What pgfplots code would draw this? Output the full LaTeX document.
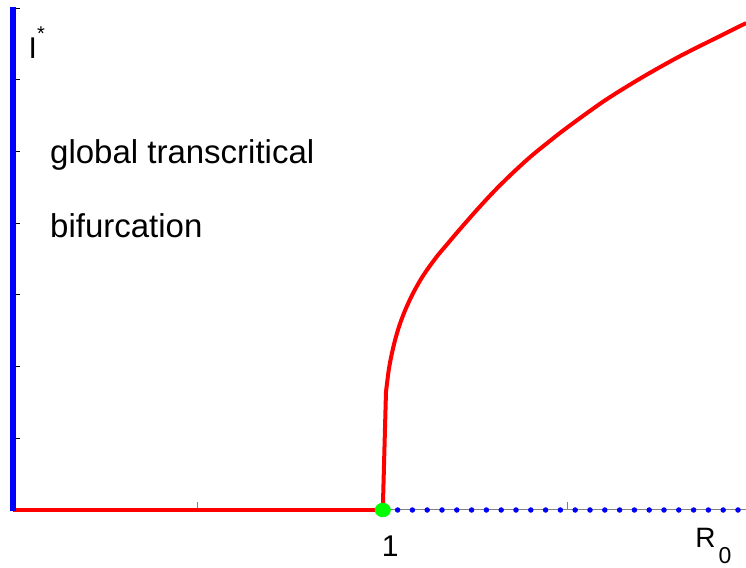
\documentclass[border=0pt]{standalone}
\usepackage{fontspec}
\setmainfont{Liberation Sans}
\usepackage{pgfplots}
\pgfplotsset{compat=1.18}

\begin{document}
\begin{tikzpicture}
\begin{axis}[
  scale only axis,
  width=370pt, height=251pt,
  xmin=0, xmax=2, ymin=0, ymax=7,
  clip=false,
  axis x line=bottom, axis y line=left,
  x axis line style={-, draw=gray, line width=0.5pt},
  y axis line style={draw=none},
  xtick={0.5,1,1.5}, ytick={0,1,...,7},
  xticklabels={}, yticklabels={},
  tick align=inside,
  major tick length=3.75pt,
  xtick style={gray, line width=0.5pt},
  ytick style={black, line width=0.5pt},
]
% disease-free branch below threshold
\addplot[red, line width=2pt, line cap=butt] coordinates {(0,0) (1,0)};
% unstable disease-free branch above threshold
\addplot[only marks, mark=*, blue, mark size=1.15pt] coordinates {
  (1.04,0) (1.08,0) (1.12,0) (1.16,0) (1.20,0) (1.24,0) (1.28,0) (1.32,0)
  (1.36,0) (1.40,0) (1.44,0) (1.48,0) (1.52,0) (1.56,0) (1.60,0) (1.64,0)
  (1.68,0) (1.72,0) (1.76,0) (1.80,0) (1.84,0) (1.88,0) (1.92,0) (1.96,0)};
% endemic branch
\addplot[red, line width=2pt, line join=round] coordinates {(1,0) (1.0086,1.646)};
\addplot[red, line width=2pt, smooth, tension=0.5, line join=round] coordinates {
  (1.0086,1.646) (1.016,1.95) (1.024,2.17) (1.034,2.385) (1.046,2.59)
  (1.062,2.805) (1.082,3.025) (1.105,3.235) (1.128,3.41) (1.150,3.56)
  (1.173,3.70) (1.200,3.865) (1.250,4.16) (1.300,4.44) (1.350,4.695)
  (1.400,4.93) (1.450,5.14) (1.500,5.34) (1.600,5.71) (1.700,6.03)
  (1.800,6.32) (1.900,6.58) (1.982,6.79)};
% vertical axis drawn as a thick blue line
\addplot[blue, line width=3pt] coordinates {(0,-0.02) (0,7.02)};
% bifurcation point
\addplot[only marks, mark=*, mark size=3.4pt, color=green, mark options={xscale=1.12}] coordinates {(1,0)};

\node[anchor=west, inner sep=0pt, yshift=-2pt, font=\fontsize{16.5}{20}\selectfont] at (axis cs:0.1,5) {global transcritical};
\node[anchor=west, inner sep=0pt, yshift=-1.5pt, font=\fontsize{16.5}{20}\selectfont] at (axis cs:0.1,4) {bifurcation};
\node[anchor=base west, inner sep=0pt, font=\fontsize{15}{17}\selectfont] at (axis cs:0.042,6.30) {I\raisebox{0.6em}{\fontsize{10}{10}\selectfont *}};
\node[anchor=base, inner sep=0pt, font=\fontsize{15}{17}\selectfont] at (axis cs:1.02,-0.642) {1};
\node[anchor=base west, inner sep=0pt, font=\fontsize{14}{16}\selectfont] at (axis cs:1.844,-0.516) {R\kern1.5pt\raisebox{-8pt}{\fontsize{11.5}{12}\selectfont 0}};
\end{axis}
\pgfresetboundingbox
\useasboundingbox (-6.4pt,-29pt) rectangle (366.6pt,255pt);
\end{tikzpicture}
\end{document}
